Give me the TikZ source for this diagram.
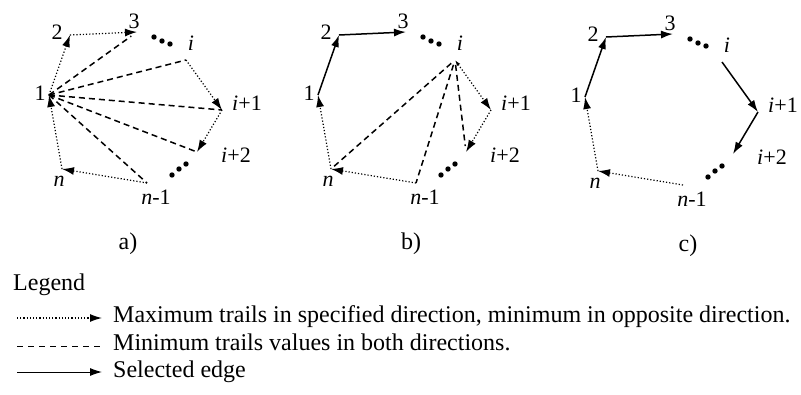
\documentclass[tikz,border=0pt]{standalone}
\usepackage{fontspec}
\setmainfont{Liberation Serif}
\usetikzlibrary{arrows.meta}
\tikzset{
  >={Latex[length=12pt,width=8pt]},
  maxtrail/.style={->, dotted, line width=1.2pt},
  mintrail/.style={dash pattern=on 6pt off 4pt, line width=1.5pt},
  selected/.style={->, line width=1.5pt},
  vlabel/.style={inner sep=0pt, font=\fontsize{22}{26}\selectfont},
  legtext/.style={inner sep=0pt, anchor=base west, font=\fontsize{24}{28}\selectfont},
}
\begin{document}
\begin{tikzpicture}[x=1pt, y=-1pt]
    \useasboundingbox (0,0) rectangle (801,394);
    % the same polygon three times: a), b), c)
    \foreach \p/\dx/\dy/\cap/\cx in {a/0/0/a)/128, b/269/0/b)/142, c/536/2/c)/152} {
      \begin{scope}[shift={(\dx,\dy)}]
        \coordinate (\p1) at (49,95); \coordinate (\p2) at (70,35); \coordinate (\p3) at (137,32);
        \coordinate (\p i) at (186,60); \coordinate (\p ip1) at (222,110); \coordinate (\p ip2) at (197,152);
        \coordinate (\p n) at (62,169); \coordinate (\p nm1) at (147,183);
        \node[vlabel] (\p1l) at (40,93) {1}; \node[vlabel] (\p2l) at (57,32) {2}; \node[vlabel] (\p3l) at (134,21) {3};
        \node[vlabel] (\p il) at (191,43) {\textit{i}}; \node[vlabel] (\p ip1l) at (247,103) {\textit{i}+1};
        \node[vlabel] (\p ip2l) at (236,155) {\textit{i}+2}; \node[vlabel] (\p nl) at (59,181) {\textit{n}};
        \node[vlabel] (\p nm1l) at (156,197) {\textit{n}-1};
        \foreach \x/\y in {154/37,162/41,170/44,172/175,179/169,186/164} {\fill (\x,\y) circle (2.7pt);}
        \node[vlabel, font=\fontsize{24}{28}\selectfont, anchor=base] (\p cap) at (\cx,249) {\cap};
      \end{scope}
    }
    % a) all candidate edges from 1
    \draw[maxtrail] (a1) -- (a2); \draw[maxtrail] (a2) -- (a3);
    \draw[maxtrail] (ai) -- (aip1); \draw[maxtrail] (aip1) -- (aip2);
    \draw[maxtrail] (anm1) -- (an); \draw[maxtrail] (an) -- (a1);
    \draw[mintrail, shorten >=7pt] (a1) -- (a3);
    \foreach \t in {ai,aip1,aip2,anm1} {\draw[mintrail] (a1) -- (\t);}
    % b) path 1-2-3 chosen, candidates from i
    \draw[selected] (b1) -- (b2); \draw[selected] (b2) -- (b3);
    \draw[maxtrail, {Latex[length=6pt,width=4pt]}->] (bi) -- (bip1); \draw[maxtrail] (bip1) -- (bip2);
    \draw[maxtrail] (bnm1) -- (bn); \draw[maxtrail] (bn) -- (b1);
    \draw[mintrail, shorten <=5pt, shorten >=4pt] (bi) -- (bn);
    \draw[mintrail, shorten <=5pt] (bi) -- (bnm1);
    \draw[mintrail, shorten <=5pt, shorten >=6pt] (bi) -- (bip2);
    % c) final tour
    \draw[selected] (c1) -- (c2); \draw[selected] (c2) -- (c3);
    \draw[selected] (ci) -- (cip1); \draw[selected] (cip1) -- (cip2);
    \draw[maxtrail] (cnm1) -- (cn); \draw[maxtrail] (cn) -- (c1);
    % legend
    \node[legtext] (legend) at (13,290) {Legend};
    \coordinate (r1a) at (17,318); \coordinate (r1b) at (102,318);
    \coordinate (r2a) at (17,346); \coordinate (r2b) at (102,346);
    \coordinate (r3a) at (17,372); \coordinate (r3b) at (102,372);
    \draw[maxtrail] (r1a) -- (r1b);
    \draw[dash pattern=on 6pt off 5pt, line width=1pt] (r2a) -- (r2b);
    \draw[->, line width=1pt] (r3a) -- (r3b);
    \node[legtext] (t1) at (113,322) {Maximum trails in specified direction, minimum in opposite direction.};
    \node[legtext] (t2) at (113,350) {Minimum trails values in both directions.};
    \node[legtext] (t3) at (113,377) {Selected edge};
\end{tikzpicture}
\end{document}
